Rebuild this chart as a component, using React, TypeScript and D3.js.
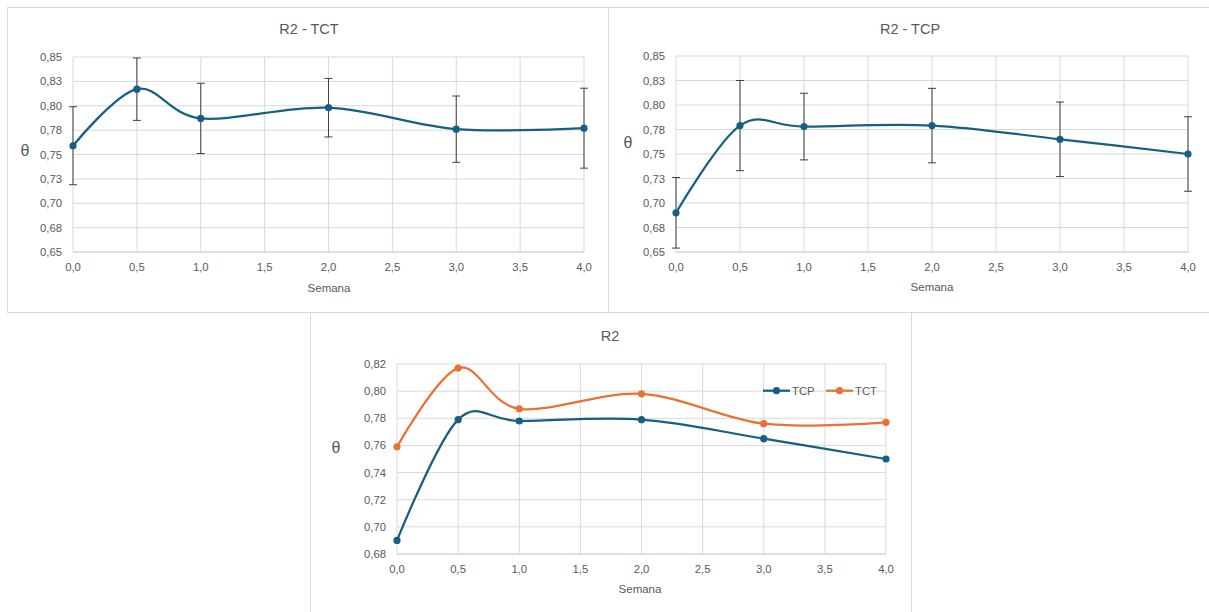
import React from "react";
import * as d3 from "d3";

const weeks = [0, 0.5, 1, 2, 3, 4];
const tctMean = [0.759, 0.817, 0.787, 0.798, 0.776, 0.777];
const tctErr = [0.04, 0.032, 0.036, 0.03, 0.034, 0.041];
const tcpMean = [0.69, 0.779, 0.778, 0.779, 0.765, 0.75];
const tcpErr = [0.036, 0.046, 0.034, 0.038, 0.038, 0.038];

const xTicks = [0, 0.5, 1, 1.5, 2, 2.5, 3, 3.5, 4];
const xTickLabels = ["0,0", "0,5", "1,0", "1,5", "2,0", "2,5", "3,0", "3,5", "4,0"];
const yTicksTop = [0.65, 0.675, 0.7, 0.725, 0.75, 0.775, 0.8, 0.825, 0.85];
const yTickLabelsTop = ["0,65", "0,68", "0,70", "0,73", "0,75", "0,78", "0,80", "0,83", "0,85"];
const yTicksBottom = [0.68, 0.7, 0.72, 0.74, 0.76, 0.78, 0.8, 0.82];
const yTickLabelsBottom = ["0,68", "0,70", "0,72", "0,74", "0,76", "0,78", "0,80", "0,82"];

const BLUE = "#156082";
const ORANGE = "#E97132";
const TEXT = "#595959";
const GRID = "#d9d9d9";
const FONT = "'Liberation Sans', Arial, sans-serif";

type Series = { name: string; color: string; mean: number[]; err?: number[] };

type PanelProps = {
  box: { x: number; y: number; w: number; h: number };
  plot: { x0: number; x1: number; y0: number; y1: number };
  yTicks: number[];
  yLabels: string[];
  series: Series[];
  title: string;
  titlePos: [number, number];
  thetaPos: [number, number];
  semanaPos: [number, number];
  legend?: boolean;
};

function Panel(p: PanelProps) {
  const x = d3.scaleLinear().domain([0, 4]).range([p.plot.x0, p.plot.x1]);
  const y = d3
    .scaleLinear()
    .domain([p.yTicks[0], p.yTicks[p.yTicks.length - 1]])
    .range([p.plot.y1, p.plot.y0]);
  const line = d3
    .line<number>()
    .x((_, i) => x(weeks[i]))
    .y((d) => y(d))
    .curve(d3.curveCardinal.tension(0));
  return (
    <g>
      <rect
        x={p.box.x + 0.5}
        y={p.box.y + 0.5}
        width={p.box.w}
        height={p.box.h}
        fill="#fff"
        stroke={GRID}
        strokeWidth={1}
      />
      {p.yTicks.map((t, i) => (
        <g key={"y" + i}>
          <line
            x1={p.plot.x0}
            x2={p.plot.x1}
            y1={y(t)}
            y2={y(t)}
            stroke={i === 0 ? "#bfbfbf" : GRID}
            strokeWidth={1}
          />
          <text
            x={p.plot.x0 - 11}
            y={y(t)}
            textAnchor="end"
            dominantBaseline="central"
            fontSize={11.3}
            fill={TEXT}
            fontFamily={FONT}
          >
            {p.yLabels[i]}
          </text>
        </g>
      ))}
      {xTicks.map((t, i) => (
        <g key={"x" + i}>
          <line x1={x(t)} x2={x(t)} y1={p.plot.y0} y2={p.plot.y1} stroke={GRID} strokeWidth={1} />
          <text
            x={x(t)}
            y={p.plot.y1 + 15}
            textAnchor="middle"
            dominantBaseline="central"
            fontSize={11.3}
            fill={TEXT}
            fontFamily={FONT}
          >
            {xTickLabels[i]}
          </text>
        </g>
      ))}
      {p.series.map((s) => (
        <g key={s.name}>
          {s.err &&
            s.mean.map((m, i) => {
              const cx = x(weeks[i]);
              const yt = y(m + s.err![i]);
              const yb = y(m - s.err![i]);
              return (
                <g key={i} stroke="#404040" strokeWidth={1}>
                  <line x1={cx} x2={cx} y1={yt} y2={yb} />
                  <line x1={cx - 4} x2={cx + 4} y1={yt} y2={yt} />
                  <line x1={cx - 4} x2={cx + 4} y1={yb} y2={yb} />
                </g>
              );
            })}
          <path d={line(s.mean) || ""} fill="none" stroke={s.color} strokeWidth={2.25} />
          {s.mean.map((m, i) => (
            <circle key={i} cx={x(weeks[i])} cy={y(m)} r={3.6} fill={s.color} />
          ))}
        </g>
      ))}
      <text
        x={p.titlePos[0]}
        y={p.titlePos[1]}
        textAnchor="middle"
        fontSize={14.5}
        fill={TEXT}
        fontFamily={FONT}
      >
        {p.title}
      </text>
      <text
        x={p.thetaPos[0]}
        y={p.thetaPos[1]}
        textAnchor="middle"
        dominantBaseline="central"
        fontSize={16}
        fill={TEXT}
        fontFamily={FONT}
      >
        θ
      </text>
      <text
        x={p.semanaPos[0]}
        y={p.semanaPos[1]}
        textAnchor="middle"
        dominantBaseline="central"
        fontSize={11.5}
        fill={TEXT}
        fontFamily={FONT}
      >
        Semana
      </text>
      {p.legend &&
        p.series.map((s, i) => {
          const lx = 763 + i * 63;
          const ly = 390.7;
          return (
            <g key={"lg" + s.name}>
              <line x1={lx} x2={lx + 27} y1={ly} y2={ly} stroke={s.color} strokeWidth={2.25} />
              <circle cx={lx + 13.5} cy={ly} r={3.6} fill={s.color} />
              <text
                x={lx + 29}
                y={ly}
                dominantBaseline="central"
                fontSize={11.3}
                fill={TEXT}
                fontFamily={FONT}
              >
                {s.name}
              </text>
            </g>
          );
        })}
    </g>
  );
}

export default function App() {
  return (
    <svg
      width={1209}
      height={612}
      style={{ position: "absolute", left: 0, top: 0, background: "#fff" }}
    >
      <rect x={0} y={0} width={1209} height={612} fill="#fff" />
      <Panel
        box={{ x: 7, y: 7, w: 601, h: 305 }}
        plot={{ x0: 73, x1: 584, y0: 57, y1: 252 }}
        yTicks={yTicksTop}
        yLabels={yTickLabelsTop}
        series={[{ name: "TCT", color: BLUE, mean: tctMean, err: tctErr }]}
        title="R2 - TCT"
        titlePos={[309, 34]}
        thetaPos={[25, 150]}
        semanaPos={[329, 288]}
      />
      <Panel
        box={{ x: 608, y: 7, w: 605, h: 305 }}
        plot={{ x0: 676, x1: 1188, y0: 56, y1: 252 }}
        yTicks={yTicksTop}
        yLabels={yTickLabelsTop}
        series={[{ name: "TCP", color: BLUE, mean: tcpMean, err: tcpErr }]}
        title="R2 - TCP"
        titlePos={[910, 34]}
        thetaPos={[628, 142]}
        semanaPos={[932, 287]}
      />
      <Panel
        box={{ x: 310, y: 312, w: 601, h: 305 }}
        plot={{ x0: 397, x1: 886, y0: 364, y1: 554 }}
        yTicks={yTicksBottom}
        yLabels={yTickLabelsBottom}
        series={[
          { name: "TCP", color: BLUE, mean: tcpMean },
          { name: "TCT", color: ORANGE, mean: tctMean },
        ]}
        title="R2"
        titlePos={[610, 341]}
        thetaPos={[336, 447]}
        semanaPos={[640, 589]}
        legend
      />
    </svg>
  );
}
